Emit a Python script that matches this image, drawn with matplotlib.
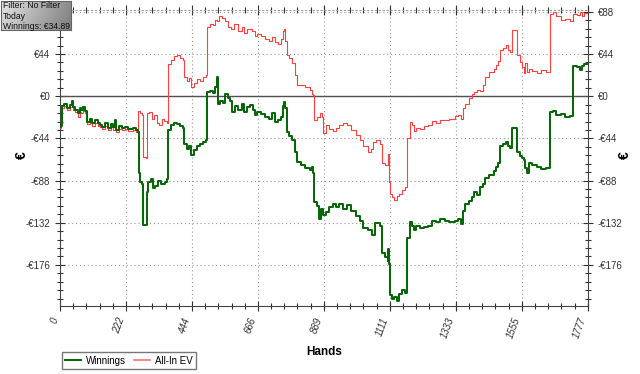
import matplotlib
matplotlib.use("Agg")
import matplotlib.pyplot as plt
import numpy as np
from matplotlib.ticker import FixedLocator, AutoMinorLocator

plt.rcParams['font.family'] = ['Liberation Sans', 'DejaVu Sans']

# Winnings (green)
win_hands = [0, 4, 6, 15, 25, 35, 40, 44, 52, 60, 67, 72, 77, 85, 92, 100, 108, 118, 128, 135,
             141, 150, 160, 170, 178, 185, 190, 198, 209, 220, 230, 245, 255, 262, 265, 270, 276, 280, 288, 292,
             296, 305, 312, 320, 330, 340, 352, 360, 363, 375, 385, 395, 405, 414, 418, 428, 435, 442, 450, 460,
             470, 480, 490, 495, 505, 515, 522, 528, 531, 538, 548, 555, 565, 572, 579, 590, 600, 612, 620, 630,
             640, 650, 656, 663, 675, 690, 705, 715, 723, 735, 745, 750, 754, 757, 764, 772, 781, 790, 797, 810,
             825, 840, 848, 851, 855, 865, 870, 880, 885, 895, 905, 919, 930, 940, 952, 965, 980, 995, 1009, 1020,
             1035, 1050, 1060, 1077, 1083, 1095, 1104, 1105, 1107, 1110, 1118, 1125, 1133, 1140, 1152, 1161, 1168, 1178, 1184, 1190,
             1197, 1210, 1225, 1240, 1252, 1265, 1280, 1295, 1310, 1329, 1340, 1350, 1355, 1363, 1375, 1385, 1395, 1405, 1415, 1425,
             1430, 1445, 1460, 1468, 1475, 1481, 1490, 1500, 1508, 1514, 1521, 1537, 1538, 1548, 1555, 1560, 1565, 1571, 1578, 1590,
             1605, 1620, 1635, 1649, 1650, 1660, 1670, 1685, 1700, 1715, 1726, 1727, 1740, 1750, 1758, 1765, 1777]
win_vals = [-32, -30, -10, -8, -12, -9, -5, -11, -14, -18, -12, -14, -11, -15, -27, -24, -28, -25, -28, -30,
            -32, -28, -33, -29, -32, -25, -35, -31, -33, -32, -34, -33, -35, -37, -80, -90, -92, -134, -134, -100,
            -90, -86, -96, -94, -88, -92, -90, -86, -35, -30, -28, -29, -31, -33, -50, -55, -52, -61, -56, -52,
            -50, -48, -46, 4, 5, 3, 10, 20, -8, -5, -7, 2, -2, -5, -17, -10, -14, -8, -16, -11,
            -9, -14, -20, -17, -19, -22, -24, -18, -27, -25, -22, -10, -6, -12, -37, -42, -46, -58, -69, -72,
            -75, -77, -74, -80, -110, -115, -128, -118, -124, -121, -116, -113, -116, -113, -118, -114, -120, -125, -130, -138,
            -140, -145, -132, -136, -164, -168, -172, -160, -175, -208, -212, -210, -214, -206, -202, -205, -148, -131, -135, -140,
            -136, -138, -137, -135, -130, -131, -128, -130, -131, -130, -128, -133, -120, -112, -109, -105, -100, -103, -95, -92,
            -85, -82, -78, -74, -70, -52, -50, -48, -52, -54, -33, -33, -58, -62, -65, -67, -75, -80, -70, -72,
            -74, -76, -75, -74, -17, -15, -20, -19, -22, -21, -20, 32, 30, 27, 32, 34, 34.89]

# All-In EV (red)
ev_hands = [0, 4, 6, 15, 25, 35, 40, 44, 52, 60, 67, 72, 77, 85, 92, 100, 108, 118, 128, 135,
            141, 150, 160, 170, 178, 185, 190, 198, 209, 220, 230, 245, 255, 262, 264, 270, 276, 280, 288, 292,
            300, 310, 318, 325, 333, 342, 350, 360, 363, 375, 385, 395, 405, 414, 418, 428, 435, 442, 450, 460,
            470, 480, 490, 495, 505, 515, 522, 528, 535, 545, 555, 565, 575, 585, 600, 612, 620, 630, 645, 656,
            663, 675, 690, 705, 715, 723, 735, 745, 750, 754, 757, 764, 772, 781, 790, 797, 810, 825, 840, 848,
            851, 855, 865, 875, 882, 885, 895, 905, 919, 930, 940, 952, 965, 980, 995, 1009, 1020, 1035, 1045, 1053,
            1065, 1077, 1083, 1095, 1104, 1105, 1107, 1110, 1118, 1125, 1133, 1140, 1152, 1161, 1168, 1178, 1184, 1190, 1197, 1210,
            1225, 1240, 1252, 1265, 1280, 1295, 1310, 1329, 1340, 1350, 1355, 1363, 1375, 1385, 1395, 1405, 1415, 1425, 1430, 1445,
            1460, 1468, 1475, 1481, 1490, 1500, 1508, 1514, 1521, 1537, 1538, 1548, 1555, 1560, 1565, 1571, 1578, 1590, 1605, 1620,
            1635, 1649, 1650, 1660, 1670, 1685, 1700, 1715, 1726, 1727, 1740, 1750, 1758, 1765, 1777]
ev_vals = [-33, -31, -12, -10, -14, -11, -8, -14, -17, -22, -16, -18, -14, -18, -29, -27, -31, -28, -31, -32,
           -34, -31, -35, -32, -35, -29, -37, -34, -35, -34, -36, -35, -37, -38, -15, -18, -20, -63, -64, -18,
           -16, -24, -20, -28, -30, -24, -26, -28, 34, 38, 42, 43, 40, 38, 20, 16, 19, 10, 14, 18,
           16, 20, 22, 72, 75, 74, 80, 78, 84, 82, 78, 72, 70, 75, 68, 72, 66, 70, 68, 63,
           65, 63, 60, 58, 62, 57, 55, 60, 68, 70, 58, 43, 40, 35, 22, 12, 12, 10, 6, 2,
           1, -25, -22, -18, -22, -38, -30, -34, -36, -33, -30, -28, -30, -35, -40, -46, -52, -58, -55, -48,
           -46, -50, -70, -72, -68, -60, -90, -102, -105, -108, -104, -102, -98, -95, -44, -27, -30, -36, -33, -34,
           -31, -30, -26, -28, -25, -25, -24, -21, -20, -24, -12, -8, -2, 2, 4, 7, 5, 12, 20, 25,
           28, 33, 37, 48, 50, 53, 48, 46, 69, 69, 43, 36, 30, 24, 35, 25, 28, 26, 24, 27,
           25, 26, 86, 88, 84, 80, 81, 79, 80, 86, 85, 88, 84, 87, 88]

x_ticks = [0, 222, 444, 666, 889, 1111, 1333, 1555, 1777]
y_ticks = [-176, -132, -88, -44, 0, 44, 88]
y_labels = ['-€176', '-€132', '-€88', '-€44', '€0', '€44', '€88']

fig = plt.figure(figsize=(6.4, 3.74), dpi=100)
ax = fig.add_axes([60 / 640, 1 - 306 / 374, 528 / 640, 296 / 374])

ax.axhline(0, color='#505050', linewidth=1.0, zorder=2)
ax.plot(ev_hands, ev_vals, color='#ff4040', linewidth=0.8, drawstyle='steps-post',
        label='All-In EV', zorder=3)
ax.plot(win_hands, win_vals, color='#006400', linewidth=1.4, drawstyle='steps-post',
        label='Winnings', zorder=4)

ax.set_xlim(0, 1777)
ax.set_ylim(-219, 90)

ax.xaxis.set_major_locator(FixedLocator(x_ticks))
ax.xaxis.set_minor_locator(AutoMinorLocator(5))
ax.yaxis.set_major_locator(FixedLocator(y_ticks))
ax.yaxis.set_minor_locator(AutoMinorLocator(5))
ax.set_yticklabels(y_labels)
ax.set_xticklabels([str(v) for v in x_ticks], rotation=70, ha='right', fontstyle='italic')

ax.tick_params(axis='both', which='major', direction='inout', length=7, width=0.8,
               labelsize=7, colors='#333333')
ax.tick_params(axis='both', which='minor', direction='inout', length=4, width=0.8, colors='#333333')
ax.tick_params(axis='y', which='both', right=True, labelright=True)
ax.tick_params(axis='x', which='both', top=True)
ax.tick_params(axis='x', which='major', pad=4)

# the info box hides the left €88 label
ax.yaxis.get_major_ticks()[-1].label1.set_visible(False)

ax.grid(True, which='major', color='#9a9a9a', linestyle=(0, (1, 2.5)), linewidth=0.8)
for s in ['left', 'right', 'bottom']:
    ax.spines[s].set_color('#444444')
ax.spines['top'].set_color('#9a9a9a')
ax.spines['top'].set_linestyle((0, (1, 2.5)))

ax.set_xlabel('Hands', fontsize=8.5, fontweight='bold', labelpad=4)
for xp in (22, 625):
    fig.text(xp / 640, 1 - 155 / 374, '€', fontsize=10, fontweight='bold',
             rotation=90, ha='center', va='center')

# legend below the chart
h, l = ax.get_legend_handles_labels()
leg = fig.legend(h[::-1], l[::-1], loc='lower left', bbox_to_anchor=(57 / 640, 0), ncol=2,
                 fontsize=7, frameon=True, fancybox=False, edgecolor='#555555',
                 handlelength=1.6, columnspacing=0.9, borderpad=0.35, handletextpad=0.5)
leg.legend_handles[1].set_color('#ff7070')
leg.legend_handles[1].set_linewidth(1.2)

# info box in the top left corner
box = fig.add_axes([1 / 640, 1 - 30 / 374, 70 / 640, 29 / 374])
grad = np.linspace(0.9, 0.55, 100).reshape(1, -1) * np.linspace(1.0, 0.9, 30).reshape(-1, 1)
box.imshow(grad, cmap='gray', vmin=0, vmax=1, aspect='auto', extent=(0, 1, 0, 1))
box.set_xticks([])
box.set_yticks([])
for s in box.spines.values():
    s.set_color('#666666')
box.text(0.03, 0.48, 'Filter: No Filter\nToday\nWinnings: €34.89', fontsize=6.2,
         va='center', ha='left', linespacing=1.25, color='#111111')

fig.savefig('out.png', dpi=100, facecolor='white')
